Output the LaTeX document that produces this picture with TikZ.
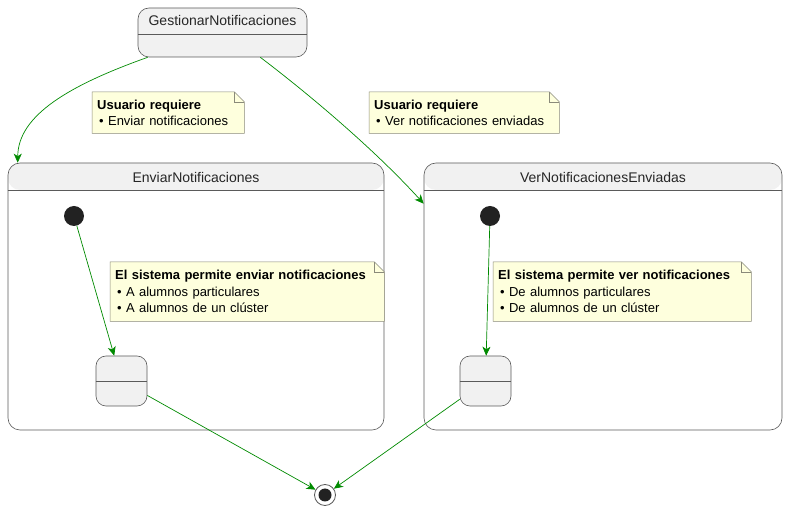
\documentclass[tikz,border=0pt]{standalone}
\usepackage{fontspec}
\setmainfont{Liberation Sans}
\usetikzlibrary{arrows.meta,backgrounds}
\pgfdeclarelayer{back}
\pgfdeclarelayer{background}
\pgfsetlayers{back,background,main}
\definecolor{statefill}{HTML}{F1F1F1}
\definecolor{notefill}{HTML}{FEFFDD}
\definecolor{lineclr}{HTML}{5A5A5A}
\definecolor{notelineclr}{HTML}{8A8A7A}
\definecolor{arrowclr}{HTML}{008A00}
\definecolor{dotclr}{HTML}{222222}
\newcommand\mynotepoly[1]{%
  \begin{pgfonlayer}{background}
  \draw[notedraw] (#1.north west) -- ([xshift=-10pt]#1.north east) -- ([yshift=-10pt]#1.north east) -- (#1.south east) -- (#1.south west) -- cycle;
  \draw[notedraw,fill=none] ([xshift=-10pt]#1.north east) -- ([xshift=-10pt,yshift=-10pt]#1.north east) -- ([yshift=-10pt]#1.north east);
  \end{pgfonlayer}}
\tikzset{
  statebox/.style={rectangle, draw=lineclr, fill=statefill, rounded corners=11pt, line width=0.6pt, inner sep=0pt},
  containerbox/.style={rectangle, draw=lineclr, fill=white, rounded corners=12pt, line width=0.6pt, inner sep=0pt,
    path picture={\fill[statefill] (path picture bounding box.north west) rectangle ([yshift=-27pt]path picture bounding box.north east);}},
  sepline/.style={draw=lineclr, line width=0.6pt},
  titlef/.style={font=\fontsize{14}{16}\selectfont, inner sep=0pt, text=black!85},
  notedraw/.style={draw=notelineclr, fill=notefill, line width=0.5pt},
  notebox/.style={anchor=north west, inner xsep=5pt, inner ysep=0pt, align=left, font=\fontsize{13}{16.5}\selectfont, text=black},
  arr/.style={draw=arrowclr, line width=0.7pt, -{Stealth[length=9pt,width=8pt,inset=2.5pt,fill=arrowclr]}},
  initdot/.style={circle, fill=dotclr, minimum size=20pt, inner sep=0pt},
}
\begin{document}
\begin{tikzpicture}[x=1pt,y=-1pt]
\useasboundingbox (0,0) rectangle (788,510);

% Top state
\node[statebox, minimum width=169pt, minimum height=49pt] (g) at (222.5,32.5) {};
\draw[sepline] (g.west |- 0,34) -- (g.east |- 0,34);
\node[titlef] (gt) at (222.5,21) {GestionarNotificaciones};

% Containers
\begin{pgfonlayer}{back}
\node[containerbox, minimum width=376pt, minimum height=267pt] (e) at (196,296.5) {};
\draw[sepline] (e.west |- 0,190) -- (e.east |- 0,190);
\node[titlef] (et) at (196,177) {EnviarNotificaciones};

\node[containerbox, minimum width=358pt, minimum height=267pt] (v) at (603,296.5) {};
\draw[sepline] (v.west |- 0,190) -- (v.east |- 0,190);
\node[titlef] (vt) at (603,177) {VerNotificacionesEnviadas};
\end{pgfonlayer}

% Notes
\node[notebox, text width=142pt, minimum height=41pt] (n1) at (92,92)
  {\textbf{Usuario requiere}\\\hspace{2pt}• Enviar notificaciones};
\mynotepoly{n1}
\node[notebox, text width=180pt, minimum height=41pt] (n2) at (369,92)
  {\textbf{Usuario requiere}\\\hspace{2pt}• Ver notificaciones enviadas};
\mynotepoly{n2}
\node[notebox, text width=264pt, minimum height=59pt] (n3) at (110,262)
  {\textbf{El sistema permite enviar notificaciones}\\\hspace{2pt}• A alumnos particulares\\\hspace{2pt}• A alumnos de un clúster};
\mynotepoly{n3}
\node[notebox, text width=248pt, minimum height=59pt] (n4) at (493,262)
  {\textbf{El sistema permite ver notificaciones}\\\hspace{2pt}• De alumnos particulares\\\hspace{2pt}• De alumnos de un clúster};
\mynotepoly{n4}

% Inner states
\node[initdot] (d1) at (74,216) {};
\node[initdot] (d2) at (490,216) {};
\node[statebox, rounded corners=10pt, minimum width=51pt, minimum height=50pt] (s1) at (121.5,381) {};
\draw[sepline] (s1.west |- 0,381) -- (s1.east |- 0,381);
\node[statebox, rounded corners=10pt, minimum width=51pt, minimum height=50pt] (s2) at (485.5,381) {};
\draw[sepline] (s2.west |- 0,381) -- (s2.east |- 0,381);

% Final state
\node[circle, draw=lineclr, fill=white, line width=0.8pt, minimum size=21pt, inner sep=0pt] (fin) at (325,495) {};
\node[circle, fill=dotclr, minimum size=13pt, inner sep=0pt] (finin) at (fin.center) {};

% Connectors
\draw[arr] ([xshift=10pt]g.south west) .. controls (70,85) and (18,115) .. ([xshift=10pt]e.north west);
\draw[arr] ([xshift=-47pt]g.south east) .. controls (310,95) and (375,150) .. ([yshift=-41pt]v.north west);
\draw[arr] (d1) -- (s1);
\draw[arr] (d2) -- (s2);
\draw[arr] (s1) -- (fin);
\draw[arr] (s2) -- (fin);
\end{tikzpicture}
\end{document}
